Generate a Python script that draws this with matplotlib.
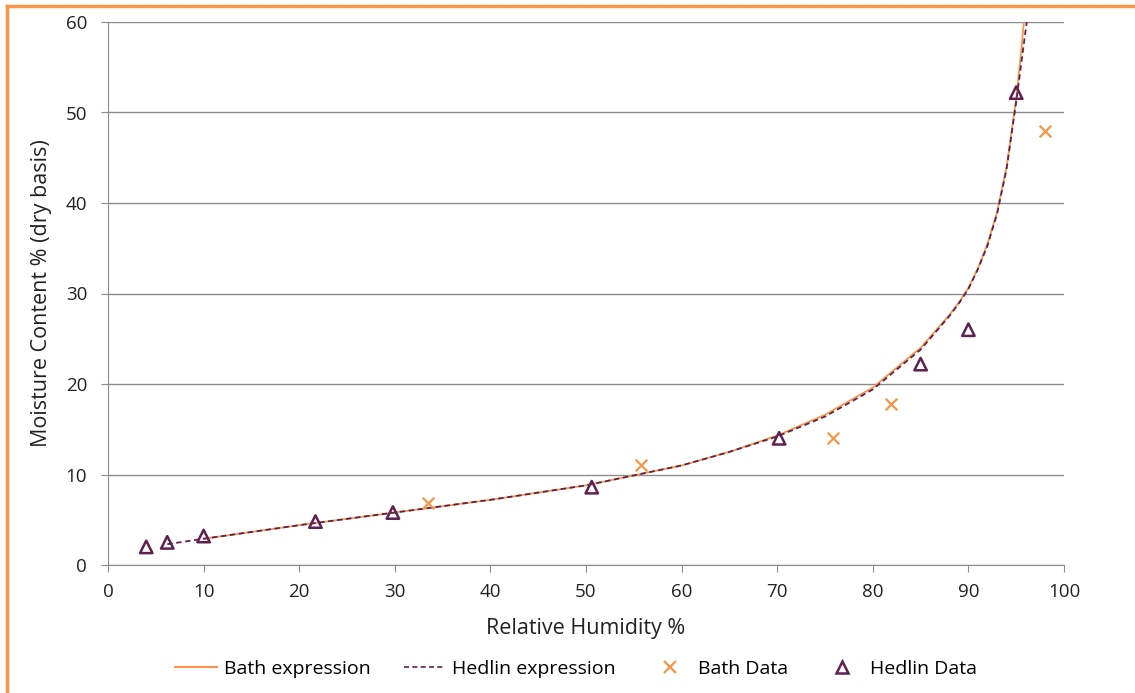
import numpy as np
import matplotlib.pyplot as plt
from matplotlib.lines import Line2D

plt.rcParams['font.family'] = ['Open Sans', 'DejaVu Sans']

# curves (relative humidity %, moisture content %)
bath_rh = [10, 20, 30, 40, 50, 60, 65, 70, 75, 80, 85, 88, 89, 90, 91, 92, 93, 94, 95, 95.5, 95.8]
bath_mc = [2.9, 4.4, 5.8, 7.2, 8.8, 11.0, 12.5, 14.3, 16.6, 19.6, 24.0, 27.6, 29.0, 30.6, 32.8, 35.5, 39.0, 44.0, 51.5, 56.5, 60.0]

hedlin_rh = [6.2, 10, 20, 30, 40, 50, 60, 65, 70, 75, 80, 85, 88, 89, 90, 91, 92, 93, 94, 95, 95.6, 96.1]
hedlin_mc = [2.3, 2.9, 4.4, 5.8, 7.2, 8.8, 11.0, 12.5, 14.2, 16.4, 19.4, 23.8, 27.5, 28.9, 30.5, 32.7, 35.3, 38.8, 43.8, 51.2, 56.0, 60.0]

# measured points
bath_data_rh = [33.5, 55.8, 75.8, 81.9, 98.0]
bath_data_mc = [6.8, 11.0, 14.0, 17.8, 48.0]

hedlin_data_rh = [4.0, 6.2, 10.0, 21.7, 29.8, 50.6, 70.2, 85.0, 90.0, 95.0]
hedlin_data_mc = [2.0, 2.5, 3.2, 4.8, 5.8, 8.6, 14.0, 22.2, 26.0, 52.2]

orange = '#f79646'
purple = '#5e2150'
grid_c = '#8c8c8c'

fig = plt.figure(figsize=(11.35, 6.93), dpi=100)
ax = fig.add_axes([108 / 1135, 1 - 565 / 693, (1064 - 108) / 1135, (565 - 22) / 693])

ax.plot(hedlin_rh, hedlin_mc, color=purple, lw=1.3, ls=(0, (3, 2)), zorder=3)
ax.plot(bath_rh, bath_mc, color=orange, lw=1.3, zorder=2)
ax.scatter(bath_data_rh, bath_data_mc, marker='x', s=70, color=orange, linewidths=1.6, zorder=4)
ax.scatter(hedlin_data_rh, hedlin_data_mc, marker='^', s=80, facecolors='none',
           edgecolors=purple, linewidths=1.8, zorder=4)

ax.set_xlim(0, 100)
ax.set_ylim(0, 60)
ax.set_xticks(np.arange(0, 101, 10))
ax.set_yticks(np.arange(0, 61, 10))
ax.yaxis.grid(True, color=grid_c, lw=1)
ax.set_axisbelow(True)
for s in ['top', 'right']:
    ax.spines[s].set_visible(False)
for s in ['left', 'bottom']:
    ax.spines[s].set_color(grid_c)
ax.tick_params(axis='both', colors=grid_c, labelcolor='#222222', labelsize=13.5, length=5)
ax.tick_params(axis='x', pad=8)
ax.tick_params(axis='y', pad=10)

ax.set_xlabel('Relative Humidity %', fontsize=15.5, color='#222222', labelpad=12)
ax.set_ylabel('Moisture Content % (dry basis)', fontsize=15.5, color='#222222', labelpad=10)

handles = [
    Line2D([], [], color=orange, lw=1.5),
    Line2D([], [], color=purple, lw=1.2, ls=(0, (3, 2))),
    Line2D([], [], color=orange, marker='x', ls='none', ms=9, mew=1.6),
    Line2D([], [], color=purple, marker='^', ls='none', ms=9, mew=1.8, mfc='none'),
]
labels = ['Bath expression', 'Hedlin expression', 'Bath Data', 'Hedlin Data']
fig.legend(handles, labels, loc='center', bbox_to_anchor=(576 / 1135, 1 - 669 / 693),
           ncol=4, frameon=False, fontsize=14, columnspacing=1.7, handlelength=2.15,
           handletextpad=0.36)

# orange frame on the left and top, as in the screenshot
fig.add_artist(Line2D([7 / 1135, 7 / 1135], [0, 1 - 6 / 693], color=orange, lw=2.5,
                      transform=fig.transFigure))
fig.add_artist(Line2D([7 / 1135, 1], [1 - 6 / 693, 1 - 6 / 693], color=orange, lw=2.5,
                      transform=fig.transFigure))

fig.savefig('out.png', dpi=100)
